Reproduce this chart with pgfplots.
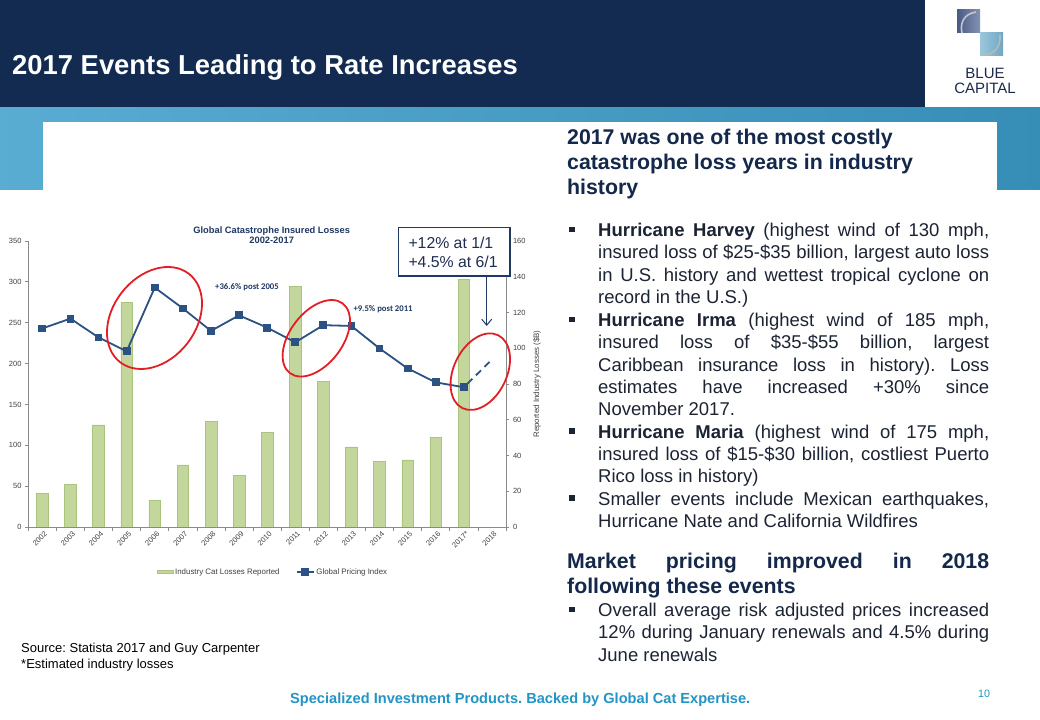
\documentclass[border=0pt]{standalone}
\usepackage{pgfplots}
\pgfplotsset{compat=1.18}
\usepackage{fontspec}
\setmainfont{Liberation Sans}
\newfontfamily\carlito{Carlito}
\usetikzlibrary{arrows.meta}
\frenchspacing
\definecolor{navy}{HTML}{132B50}
\definecolor{headc}{HTML}{14284B}
\definecolor{bodyc}{HTML}{1C2333}
\definecolor{tealband}{HTML}{3C9DCA}
\definecolor{tealtext}{HTML}{2394C6}
\definecolor{barfill}{HTML}{C3D69B}
\definecolor{baredge}{HTML}{A8C47E}
\definecolor{lineblue}{HTML}{2C5283}
\definecolor{axgray}{HTML}{8A8A8A}
\definecolor{ticktext}{HTML}{404040}
\definecolor{ctitle}{HTML}{1F3864}
\definecolor{redc}{HTML}{E21F26}
\definecolor{logoa}{HTML}{4A5A85}
\definecolor{logob}{HTML}{8393B5}
\definecolor{logoc}{HTML}{9CC7DB}
\definecolor{logod}{HTML}{6FA7C4}
\definecolor{logot}{HTML}{1B2A4A}
\definecolor{boxtext}{HTML}{1F2D50}
\newcommand{\fs}[1]{\fontsize{#1bp}{#1bp}\selectfont}
\pgfplotstableread{
x bar
0 18.7
1 23.8
2 57.1
3 125.7
4 15.1
5 34.7
6 59.0
7 28.8
8 53.0
9 134.4
10 81.4
11 44.8
12 36.6
13 37.5
14 50.3
15 138.5
}\bardata
\pgfplotstableread{
x idx
0 243
1 255
2 232
3 215
4 293
5 267.5
6 240
7 259
8 244
9 226
10 247
11 246
12 218.5
13 194
14 177
15 171
}\linedata
\newcommand{\JL}[2]{\node[anchor=base west,inner sep=0pt,font=\fs{18.5},text=bodyc] at (598,{720-#1}) {\makebox[391bp][s]{#2}};}
\newcommand{\LL}[2]{\node[anchor=base west,inner sep=0pt,font=\fs{18.5},text=bodyc] at (598,{720-#1}) {#2};}
\newcommand{\HL}[2]{\node[anchor=base west,inner sep=0pt,font=\fs{21.3}\bfseries,text=headc] at (567,{720-#1}) {#2};}
\newcommand{\HJ}[2]{\node[anchor=base west,inner sep=0pt,font=\fs{21.3}\bfseries,text=headc] at (567,{720-#1}) {\makebox[422bp][s]{#2}};}
\newcommand{\BU}[1]{\fill[bodyc] (569,{720-#1+4.3}) rectangle (574.5,{720-#1+9.8});}
\begin{document}
\begin{tikzpicture}[x=1bp,y=1bp]
\path[use as bounding box] (0,0) rectangle (1040,720);
\fill[white] (0,0) rectangle (1040,720);
% header
\fill[navy] (0,612.3) rectangle (1040,720);
\fill[white] (925,612.3) rectangle (1040,720);
\shade[left color=tealband!85!white, right color=tealband!90!black] (0,530) rectangle (1040,612.3);
\fill[white] (43,0) rectangle (997,598);
\node[anchor=base west,inner sep=0pt,font=\fs{27.4}\bfseries,text=white] at (12,645) {2017 Events Leading to Rate Increases};
% logo
\shade[left color=logoa, right color=logob] (957,687) rectangle (980,710);
\draw[gray!45,line width=1.6bp] (976,708) .. controls (963,706) and (960,696) .. (962,687);
\shade[left color=logoc, right color=logod] (980,664) rectangle (1003,687);
\draw[gray!55,line width=1.6bp] (1000,685) .. controls (1001,672) and (993,665) .. (983,665);
\node[anchor=base,inner sep=0pt,font=\fs{15},text=logot] at (985,641) {BLUE};
\node[anchor=base,inner sep=0pt,font=\fs{15},text=logot] at (985,626) {CAPITAL};
% chart: bars on right axis
\begin{axis}[at={(28.3bp,193bp)},anchor=south west,scale only axis,
  width=477.7bp,height=286bp,
  xmin=-0.5,xmax=16.5,ymin=0,ymax=160,
  axis x line=none, axis y line*=right,
  ytick={0,20,...,160},
  tick align=outside, major tick length=3.3bp,
  axis line style={draw=axgray,line width=0.75bp,-},
  tick style={draw=axgray,line width=0.75bp},
  /pgf/number format/assume math mode=true,
  yticklabel style={font=\fs{7.5},text=ticktext,inner sep=0pt,xshift=3.5bp},
  ylabel={Reported Industry Losses (\$B)},
  ylabel style={at={(axis description cs:1.065,0.5)},anchor=center,font=\fs{7.9},text=ticktext,inner sep=0pt},
  clip=false]
\addplot[ybar,bar width=11.7bp,bar shift=0pt,fill=barfill,draw=baredge,line width=0.6bp] table[x=x,y=bar] {\bardata};
\end{axis}
% line on left axis
\begin{axis}[at={(28.3bp,193bp)},anchor=south west,scale only axis,
  width=477.7bp,height=286bp,
  xmin=-0.5,xmax=16.5,ymin=0,ymax=350,
  axis x line*=bottom, axis y line*=left,
  ytick={0,50,...,350},
  xtick={0,...,16},
  xticklabels={2002,2003,2004,2005,2006,2007,2008,2009,2010,2011,2012,2013,2014,2015,2016,2017*,2018},
  minor xtick={-0.5,0.5,...,16.5},
  tick align=outside, major tick length=3.3bp,
  major x tick style={draw=none},
  minor tick length=4bp,
  axis line style={draw=axgray,line width=0.75bp,-},
  tick style={draw=axgray,line width=0.75bp},
  /pgf/number format/assume math mode=true,
  yticklabel style={font=\fs{7.5},text=ticktext,inner sep=0pt,xshift=-3.3bp},
  xticklabel style={font=\fs{7.5},text=ticktext,inner sep=0pt,rotate=45,anchor=east,xshift=1bp,yshift=-4bp},
  legend style={at={(axis description cs:0.512,-0.157)},anchor=center,draw=none,fill=none,
    font=\fs{7.9},text=ticktext,legend columns=2,
    /tikz/every even column/.append style={column sep=14bp},
    legend cell align=left},
  clip=false]
\addlegendimage{legend image code/.code={\draw[fill=barfill,draw=baredge,line width=0.5bp] (0bp,-1.8bp) rectangle (16bp,1.8bp);}}
\addlegendentry{Industry Cat Losses Reported}
\addplot[lineblue,line width=1.8bp,mark=square*,mark size=3bp,mark options={solid,fill=lineblue}] table[x=x,y=idx] {\linedata};
\addlegendentry{Global Pricing Index}
\addplot[lineblue,line width=1.8bp,dash pattern=on 7bp off 5bp,dash phase=-5bp,forget plot] coordinates {(15,171) (16,205)};
\end{axis}
% chart title and annotations
\node[anchor=base,inner sep=0pt,font=\fs{9.3}\bfseries,text=ctitle] at (271.7,486.7) {Global Catastrophe Insured Losses};
\node[anchor=base,inner sep=0pt,font=\fs{9.3}\bfseries,text=ctitle] at (271.7,476.7) {2002-2017};
\node[anchor=base west,inner sep=0pt,font=\carlito\fs{8.7}\bfseries,text=ctitle] at (215,430) {+36.6\% post 2005};
\node[anchor=base west,inner sep=0pt,font=\carlito\fs{8.7}\bfseries,text=ctitle] at (353.3,408.3) {+9.5\% post 2011};
% ellipses
\draw[redc,line width=1.8bp,shift={(154.5,402)},rotate=52] (0,0) ellipse [x radius=56bp,y radius=41.5bp];
\draw[redc,line width=1.8bp,shift={(316.3,381.7)},rotate=52.8] (0,0) ellipse [x radius=43.7bp,y radius=26.2bp];
\draw[redc,line width=1.8bp,shift={(480.3,348.3)},rotate=64] (0,0) ellipse [x radius=40.6bp,y radius=26.5bp];
% callout
\draw[ctitle,line width=1.2bp,fill=white] (398.3,444) rectangle (510,492.3);
\node[anchor=base west,inner sep=0pt,font=\fs{15.8},text=boxtext] at (408.3,471.5) {+12\% at 1/1};
\node[anchor=base west,inner sep=0pt,font=\fs{15.8},text=boxtext] at (408.3,452.3) {+4.5\% at 6/1};
\draw[ctitle,line width=1bp,-{Straight Barb[length=6bp,width=10bp]}] (486.7,444) -- (486.7,394);
% right text
\HL{144.3}{2017 was one of the most costly}
\HL{169.6}{catastrophe loss years in industry}
\HL{194.9}{history}
\BU{236.7}
\JL{236.7}{\textbf{Hurricane Harvey} (highest wind of 130 mph,}
\JL{259}{insured loss of \$25-\$35 billion, largest auto loss}
\JL{281.3}{in U.S. history and wettest tropical cyclone on}
\LL{303.6}{record in the U.S.)}
\BU{326.7}
\JL{326.7}{\textbf{Hurricane Irma} (highest wind of 185 mph,}
\JL{349}{insured loss of \$35-\$55 billion, largest}
\JL{371.3}{Caribbean insurance loss in history). Loss}
\JL{393.6}{estimates have increased +30\% since}
\LL{415.9}{November 2017.}
\BU{438.2}
\JL{438.2}{\textbf{Hurricane Maria} (highest wind of 175 mph,}
\JL{460.5}{insured loss of \$15-\$30 billion, costliest Puerto}
\LL{482.8}{Rico loss in history)}
\BU{505.1}
\JL{505.1}{Smaller events include Mexican earthquakes,}
\LL{527.4}{Hurricane Nate and California Wildfires}
\HJ{568.3}{Market pricing improved in 2018}
\HL{593.6}{following these events}
\BU{616.7}
\JL{616.7}{Overall average risk adjusted prices increased}
\JL{639}{12\% during January renewals and 4.5\% during}
\LL{661.3}{June renewals}
% footnotes
\node[anchor=base west,inner sep=0pt,font=\fs{13},text=black] at (21,67) {Source: Statista 2017 and Guy Carpenter};
\node[anchor=base west,inner sep=0pt,font=\fs{13},text=black] at (21,51) {*Estimated industry losses};
\node[anchor=base west,inner sep=0pt,font=\fs{14.6}\bfseries,text=tealtext] at (290,16) {Specialized Investment Products. Backed by Global Cat Expertise.};
\node[anchor=base west,inner sep=0pt,font=\fs{10.7},text=tealtext] at (978,22.3) {10};
\end{tikzpicture}
\end{document}
